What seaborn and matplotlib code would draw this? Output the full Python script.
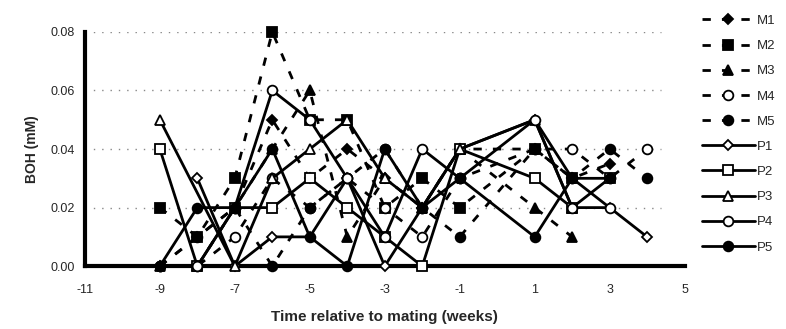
"""BOH concentration around mating, M1-M5 (dashed) and P1-P5 (solid)."""
import numpy as np
import pandas as pd
import matplotlib
matplotlib.use("Agg")
import matplotlib.pyplot as plt
import seaborn as sns

nan = np.nan

# ---------------------------------------------------------------------------
# Data
# ---------------------------------------------------------------------------
weeks = [-9, -8, -7, -6, -5, -4, -3, -2, -1, 1, 2, 3, 4]

M1 = [0.00, 0.01, 0.02, 0.05, 0.03, 0.04, 0.03, 0.02, 0.04, 0.04, 0.03, 0.035, nan]
M2 = [0.02, 0.01, 0.03, 0.08, 0.05, 0.05, 0.02, 0.03, 0.02, 0.04, 0.03, nan, nan]
M3 = [0.00, 0.00, 0.02, 0.04, 0.06, 0.01, 0.03, 0.02, 0.04, 0.02, 0.01, nan, nan]
M4 = [0.00, 0.00, 0.01, 0.03, 0.02, 0.03, 0.02, 0.01, 0.03, 0.04, 0.04, 0.03, 0.04]
M5 = [0.00, 0.01, 0.02, 0.00, 0.02, 0.03, 0.04, 0.02, 0.01, 0.04, 0.03, 0.04, 0.03]

P1 = [nan, 0.03, 0.00, 0.01, 0.01, 0.03, 0.00, 0.02, 0.04, 0.05, 0.03, 0.02, 0.01]
P2 = [0.04, 0.00, 0.02, 0.02, 0.03, 0.02, 0.01, 0.00, 0.04, 0.03, 0.02, 0.03, nan]
P3 = [0.05, nan, 0.00, 0.03, 0.04, 0.05, 0.03, 0.02, 0.04, 0.05, 0.02, nan, nan]
P4 = [nan, 0.00, 0.02, 0.06, 0.05, 0.03, 0.01, 0.04, 0.03, 0.05, 0.02, 0.02, nan]
P5 = [0.00, 0.02, 0.02, 0.04, 0.01, 0.00, 0.04, 0.02, 0.03, 0.01, 0.03, 0.03, nan]

series = {"M1": M1, "M2": M2, "M3": M3, "M4": M4, "M5": M5,
          "P1": P1, "P2": P2, "P3": P3, "P4": P4, "P5": P5}

# marker, face colour, size
styles = {
    "M1": ("D", "black", 5), "M2": ("s", "black", 7), "M3": ("^", "black", 7),
    "M4": ("o", "white", 7), "M5": ("o", "black", 7),
    "P1": ("D", "white", 5), "P2": ("s", "white", 7), "P3": ("^", "white", 7),
    "P4": ("o", "white", 7), "P5": ("o", "black", 7),
}

# ---------------------------------------------------------------------------
# Figure
# ---------------------------------------------------------------------------
sns.set_style("white")
plt.rcParams["font.family"] = ["Liberation Sans", "DejaVu Sans"]
plt.rcParams["axes.unicode_minus"] = False

fig = plt.figure(figsize=(7.86, 3.29), dpi=100)
ax = fig.add_axes([0.108, 0.191, 0.763, 0.712])

for name, vals in series.items():
    df = pd.DataFrame({"week": weeks, "boh": vals}).dropna()
    marker, face, size = styles[name]
    dashed = name.startswith("M")
    sns.lineplot(data=df, x="week", y="boh", ax=ax, color="black",
                 lw=2.0, marker=marker, markersize=size,
                 markerfacecolor=face, markeredgecolor="black",
                 markeredgewidth=1.3, label=name, clip_on=False,
                 linestyle=(0, (3, 4)) if dashed else "-",
                 legend=False, zorder=3)

ax.set_xlim(-11, 5)
ax.set_ylim(0, 0.08)
ax.set_xticks(range(-11, 6, 2))
ax.set_yticks([0.00, 0.02, 0.04, 0.06, 0.08])
ax.yaxis.set_major_formatter(matplotlib.ticker.FormatStrFormatter("%.2f"))
ax.tick_params(axis="both", labelsize=9, length=4, width=2, direction="out",
               color="black")
ax.tick_params(axis="x", pad=9)
for y in (0.02, 0.04, 0.06, 0.08):
    ax.axhline(y, xmin=0, xmax=0.96, color="#888888", lw=1, ls=(0, (1, 5)),
               zorder=1)
sns.despine(ax=ax)
for side in ("left", "bottom"):
    ax.spines[side].set_linewidth(3)
    ax.spines[side].set_color("black")

ax.set_xlabel("Time relative to mating (weeks)", fontsize=11,
              fontweight="bold", labelpad=10)
ax.set_ylabel("BOH (mM)", fontsize=10, fontweight="bold", labelpad=8)

handles = [ax.lines[i] for i in range(len(series))]
fig.legend(handles, list(series.keys()), loc="upper left",
           bbox_to_anchor=(0.893, 0.955), frameon=False, fontsize=9.5,
           handlelength=4.0, handletextpad=0.2, labelspacing=0.98,
           borderaxespad=0, borderpad=0)

fig.savefig("out.png", dpi=100)
